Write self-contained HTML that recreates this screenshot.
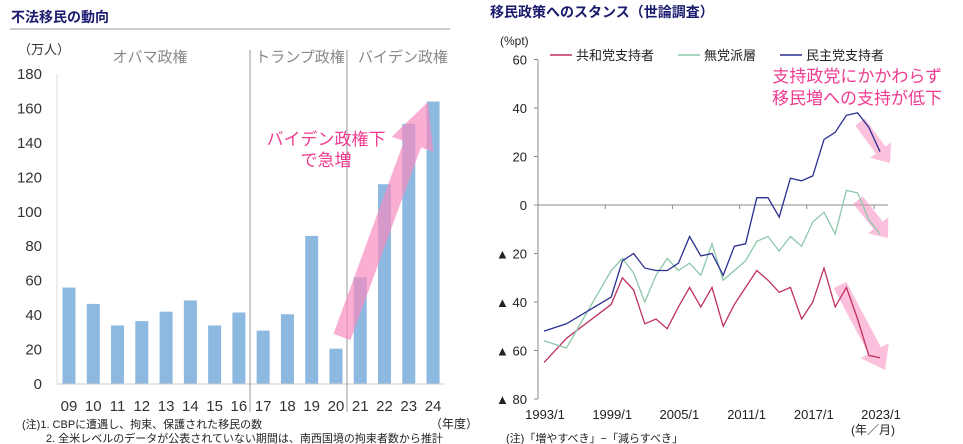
<!DOCTYPE html>
<html><head><meta charset="utf-8"><style>
body{margin:0;background:#fff;width:963px;height:444px;overflow:hidden;font-family:"Liberation Sans","Noto Sans CJK JP",sans-serif}
svg{display:block}
text{font-family:"Liberation Sans","Noto Sans CJK JP",sans-serif}
</style></head><body>
<svg id="svg" width="963" height="444" viewBox="0 0 963 444">
<text x="11" y="22" font-size="14" font-weight="bold" fill="#1a1a6e">不法移民の動向</text>
<line x1="10" y1="29" x2="450" y2="29" stroke="#ccc" stroke-width="2"/>
<text x="490" y="17" font-size="14" font-weight="bold" fill="#1a1a6e">移民政策へのスタンス（世論調査）</text>
<g id="left"></g>
<g id="right"></g>
<text x="22" y="428" font-size="11" fill="#222">(注)1. CBPに遭遇し、拘束、保護された移民の数</text>
<text x="46" y="442" font-size="11" fill="#222">2. 全米レベルのデータが公表されていない期間は、南西国境の拘束者数から推計</text>
<text x="430" y="428" font-size="12" fill="#222">（年度）</text>
<text x="506" y="442" font-size="11" fill="#222">(注)「増やすべき」−「減らすべき」</text>
</svg>
<script>
const NS='http://www.w3.org/2000/svg';
function mk(parent,tag,attrs,txt){const e=document.createElementNS(NS,tag);for(const k in attrs)e.setAttribute(k,attrs[k]);if(txt!==undefined)e.textContent=txt;parent.appendChild(e);return e;}

// ---- left chart data ----
const barYears=['09','10','11','12','13','14','15','16','17','18','19','20','21','22','23','24'];
const barValues=[56,46.5,34,36.5,42,48.5,34,41.5,31,40.5,86,20.5,62,116,151,164];
const barTicks=[0,20,40,60,80,100,120,140,160,180];

// ---- right chart data ----
const lineYears=[1993,1995,1999,2000,2001,2002,2003,2004,2005,2006,2007,2008,2009,2010,2011,2012,2013,2014,2015,2016,2017,2018,2019,2020,2021,2022,2023];
const demValues=[-52,-49,-38,-23,-20,-26,-27,-27,-24,-13,-21,-20,-29,-17,-16,3,3,-5,11,10,12,27,30,37,38,32,22];
const indValues=[-56,-59,-27,-22,-28,-40,-29,-22,-27,-24,-29,-16,-31,-27,-23,-15,-13,-19,-13,-17,-7,-3,-12,6,5,-6,-12];
const repValues=[-65,-55,-41,-30,-35,-49,-47,-51,-42,-34,-42,-34,-50,-41,-34,-27,-31,-36,-34,-47,-40,-26,-42,-34,-47,-62,-63];
const lineTicks=[60,40,20,0,-20,-40,-60,-80];
const xTickYears=[1993,1999,2005,2011,2017,2023];

// ---- left chart ----
const L=document.getElementById('left');
const by=v=>384-v*(310/180);
const bx=i=>69+i*24.27;
barTicks.forEach(t=>{const e=mk(L,'text',{x:42,y:by(t)+5,'font-size':15,fill:'#333','text-anchor':'end'},t);

});
mk(L,'line',{x1:57,y1:74,x2:57,y2:384,stroke:'#ddd',});
barValues.forEach((v,i)=>{const r=mk(L,'rect',{x:bx(i)-6.5,y:by(v),width:13,height:384-by(v),fill:'#8db8e0'});


const t=mk(L,'text',{x:bx(i),y:411,'font-size':15,fill:'#333','text-anchor':'middle'},barYears[i]);

});
mk(L,'line',{x1:57,y1:384,x2:445,y2:384,stroke:'#ccc',});
mk(L,'line',{x1:250,y1:50,x2:250,y2:412,stroke:'#999',});
mk(L,'line',{x1:347,y1:50,x2:347,y2:412,stroke:'#999',});
mk(L,'text',{x:18,y:54,'font-size':13,fill:'#333',},'（万人）');
mk(L,'text',{x:150,y:62,'font-size':15,fill:'#888','text-anchor':'middle',},'オバマ政権');
mk(L,'text',{x:300,y:62,'font-size':15,fill:'#888','text-anchor':'middle',},'トランプ政権');
mk(L,'text',{x:403,y:62,'font-size':15,fill:'#888','text-anchor':'middle',},'バイデン政権');
mk(L,'polygon',{points:'333.5,333.9 404,141.2 391.8,136.7 428,102 433.2,151.9 421,147.4 350.5,340.1',fill:'#f78cbf','fill-opacity':0.7,});
mk(L,'text',{x:326,y:145,'font-size':17,fill:'#f03c90','text-anchor':'middle',},'バイデン政権下');
mk(L,'text',{x:326,y:166,'font-size':17,fill:'#f03c90','text-anchor':'middle',},'で急増');

// ---- right chart ----
const R=document.getElementById('right');
const ly=v=>205-v*(194/80);
const lx=y=>544+(y-1993)*11.2;
mk(R,'line',{x1:538,y1:60,x2:538,y2:399,stroke:'#888',});
lineTicks.forEach(t=>{const e=mk(R,'text',{x:527,y:ly(t)+5,'font-size':13,fill:'#222','text-anchor':'end'},t<0?'▲ '+(-t):t);


const k=mk(R,'line',{x1:534,y1:ly(t),x2:538,y2:ly(t),stroke:'#888'});

});
mk(R,'line',{x1:538,y1:205,x2:888,y2:205,stroke:'#888',});
xTickYears.forEach(y=>{const e=mk(R,'text',{x:lx(y)+1,y:419,'font-size':13,fill:'#222','text-anchor':'middle'},y+'/1');


const k=mk(R,'line',{x1:lx(y)-6,y1:205,x2:lx(y)-6,y2:209,stroke:'#888'});

});
mk(R,'text',{x:500,y:45,'font-size':12,fill:'#222',},'(%pt)');
mk(R,'text',{x:873,y:434,'font-size':12,fill:'#222','text-anchor':'middle',},'(年／月)');
['846.2,281.7 880.9,347.3 888.8,343.1 885,370 860.6,358.1 868.5,353.9 833.8,288.3',
 '862.7,196.3 882.8,221.7 888.3,217.3 888,238 867.9,233.5 873.4,229.1 853.3,203.7',
 '864.8,118.5 885.4,146.6 891.1,142.4 890,163 870.1,157.8 875.8,153.6 855.2,125.5'].forEach(a=>{
const p=mk(R,'polygon',{points:a,fill:'#f78cbf','fill-opacity':0.55});

});
const series=[[repValues,'#c0305f','republican-line'],[indValues,'#8cc8a8','independent-line'],[demValues,'#2a2f8f','democrat-line']];
series.forEach(s=>{const pts=s[0].map((v,i)=>lx(lineYears[i]).toFixed(1)+','+ly(v).toFixed(1)).join(' ');
const p=mk(R,'polyline',{points:pts,fill:'none',stroke:s[1],'stroke-width':1.3});

});
[['共和党支持者','#c0305f',550],['無党派層','#8cc8a8',678],['民主党支持者','#2a2f8f',780]].forEach(l=>{
const g=mk(R,'g',{});


mk(g,'line',{x1:l[2],y1:55,x2:l[2]+22,y2:55,stroke:l[1],'stroke-width':1.5});
mk(g,'text',{x:l[2]+26,y:60,'font-size':13,fill:'#222'},l[0]);});
mk(R,'text',{x:942,y:82,'font-size':17,fill:'#f03c90','text-anchor':'end',},'支持政党にかかわらず');
mk(R,'text',{x:942,y:104,'font-size':17,fill:'#f03c90','text-anchor':'end',},'移民増への支持が低下');
</script>
</body></html>
